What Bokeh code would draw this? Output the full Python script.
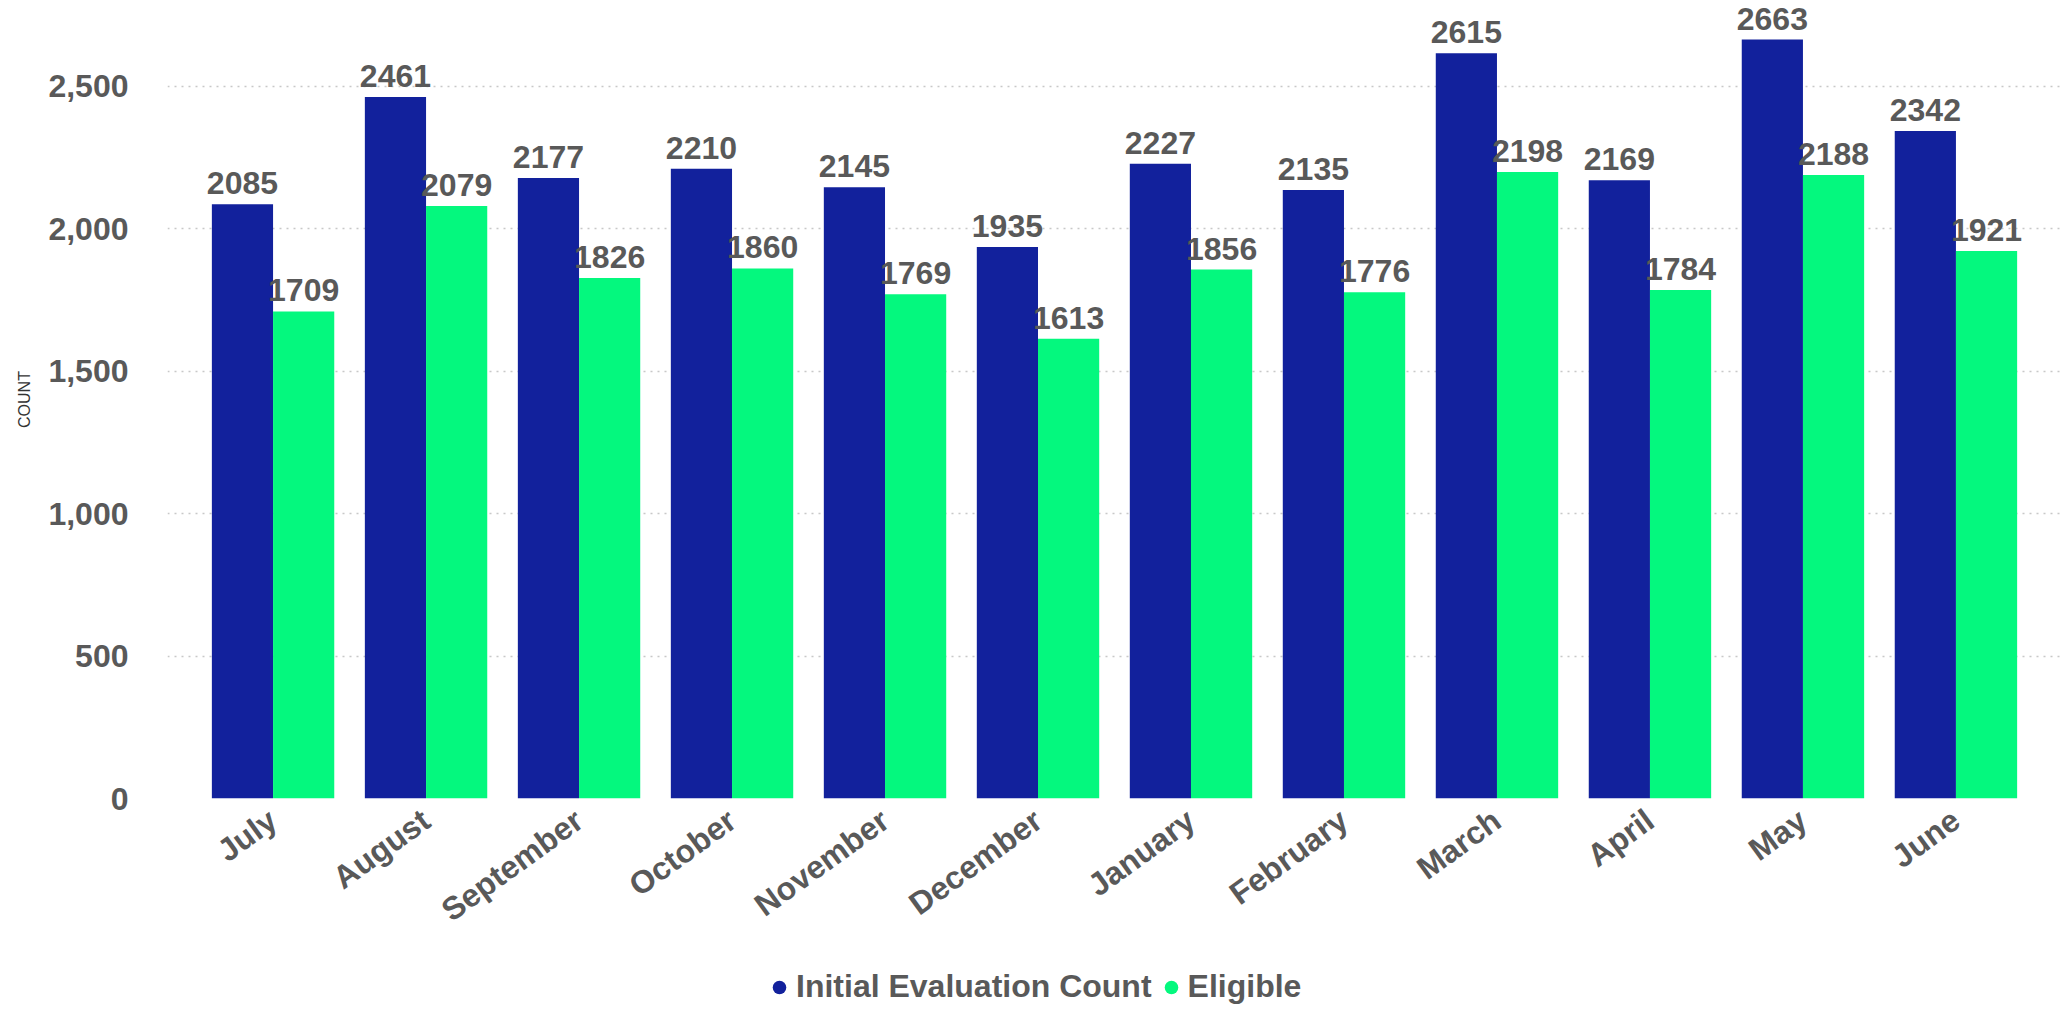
import math
from bokeh.plotting import figure
from bokeh.layouts import column
from bokeh.models import (ColumnDataSource, FactorRange, Range1d, Legend, LegendItem,
                          NumeralTickFormatter, SingleIntervalTicker)
from bokeh.transform import dodge
from bokeh.core.properties import value
from bokeh.embed import file_html
from bokeh.resources import INLINE

months = ["July", "August", "September", "October", "November", "December",
          "January", "February", "March", "April", "May", "June"]
initial_eval = [2085, 2461, 2177, 2210, 2145, 1935, 2227, 2135, 2615, 2169, 2663, 2342]
eligible = [1709, 2079, 1826, 1860, 1769, 1613, 1856, 1776, 2198, 1784, 2188, 1921]
series_names = ["Initial Evaluation Count", "Eligible"]

BLUE = "#12219C"
GREEN = "#04F87E"
GRAY = "#595959"
FONT = "Liberation Sans"

src = ColumnDataSource(dict(
    month=months,
    initial=initial_eval,
    eligible=eligible,
    initial_lbl=[str(v) for v in initial_eval],
    eligible_lbl=[str(v) for v in eligible],
))

LEFT = 167
p = figure(
    x_range=FactorRange(*months, range_padding=0.19, range_padding_units="absolute"),
    y_range=(0, 2800),
    width=2061, height=955, frame_width=2061 - LEFT, frame_height=798,
    output_backend="svg", toolbar_location=None,
    min_border_left=LEFT, min_border_right=0, min_border_top=0, min_border_bottom=157,
)
p.outline_line_color = None
p.background_fill_color = "white"
p.border_fill_color = "white"

p.vbar(x=dodge("month", -0.2, range=p.x_range), top="initial", width=0.4,
       source=src, fill_color=BLUE, line_color=None)
p.vbar(x=dodge("month", 0.2, range=p.x_range), top="eligible", width=0.4,
       source=src, fill_color=GREEN, line_color=None)

p.text(x=dodge("month", -0.2, range=p.x_range), y="initial", text="initial_lbl", source=src,
       text_font=value(FONT), text_font_style="bold", text_font_size="32px",
       text_color=GRAY, text_align="center", text_baseline="bottom", y_offset=-10)
p.text(x=dodge("month", 0.2, range=p.x_range), y="eligible", text="eligible_lbl", source=src,
       text_font=value(FONT), text_font_style="bold", text_font_size="32px",
       text_color=GRAY, text_align="center", text_baseline="bottom", y_offset=-10)

# y axis
p.yaxis.ticker = SingleIntervalTicker(interval=500)
p.yaxis.formatter = NumeralTickFormatter(format="0,0")
p.yaxis.axis_label = "COUNT"
p.yaxis.axis_label_text_font = FONT
p.yaxis.axis_label_text_font_style = "normal"
p.yaxis.axis_label_text_font_size = "16px"
p.yaxis.axis_label_text_color = "#333333"
p.yaxis.axis_label_standoff = 12
p.yaxis.major_label_text_font = FONT
p.yaxis.major_label_text_font_style = "bold"
p.yaxis.major_label_text_font_size = "32px"
p.yaxis.major_label_text_color = GRAY
p.yaxis.major_label_standoff = 33
p.yaxis.axis_line_color = None
p.yaxis.major_tick_line_color = None
p.yaxis.minor_tick_line_color = None

# x axis
p.xaxis.major_label_orientation = math.radians(36)
p.xaxis.major_label_text_font = FONT
p.xaxis.major_label_text_font_style = "bold"
p.xaxis.major_label_text_font_size = "32px"
p.xaxis.major_label_text_color = GRAY
p.xaxis.major_label_standoff = 12
p.xaxis.axis_line_color = None
p.xaxis.major_tick_line_color = None
p.xaxis.minor_tick_line_color = None

p.xgrid.grid_line_color = None
p.ygrid.grid_line_color = "#C8C8C8"
p.ygrid.grid_line_dash = "2 5"
p.ygrid.grid_line_width = 1.5

# legend strip below the chart (its frame is aligned with the chart's frame)
pl = figure(x_range=p.x_range, y_range=Range1d(-2, -1), width=2061, height=56,
            output_backend="svg", toolbar_location=None,
            x_axis_location=None, y_axis_location=None,
            min_border_left=0, min_border_right=0, min_border_top=0, min_border_bottom=0)
pl.outline_line_color = None
pl.grid.grid_line_color = None
pl.background_fill_color = "white"
l1 = pl.scatter(x=dodge("month", -0.2, range=p.x_range), y="initial", source=src,
                marker="circle", size=12, fill_color=BLUE, line_color=None)
l2 = pl.scatter(x=dodge("month", 0.2, range=p.x_range), y="eligible", source=src,
                marker="circle", size=12, fill_color=GREEN, line_color=None)
legend = Legend(items=[LegendItem(label=series_names[0], renderers=[l1]),
                       LegendItem(label=series_names[1], renderers=[l2])],
                orientation="horizontal", location=(762 - LEFT, 6),
                border_line_color=None, background_fill_alpha=0,
                padding=0, margin=0, spacing=2,
                glyph_width=34, glyph_height=34, label_standoff=0,
                label_text_font=FONT, label_text_font_style="bold",
                label_text_font_size="32px", label_text_color=GRAY)
pl.add_layout(legend, "center")

layout = column(p, pl, spacing=0)
open("out.html", "w").write(file_html(layout, INLINE))
